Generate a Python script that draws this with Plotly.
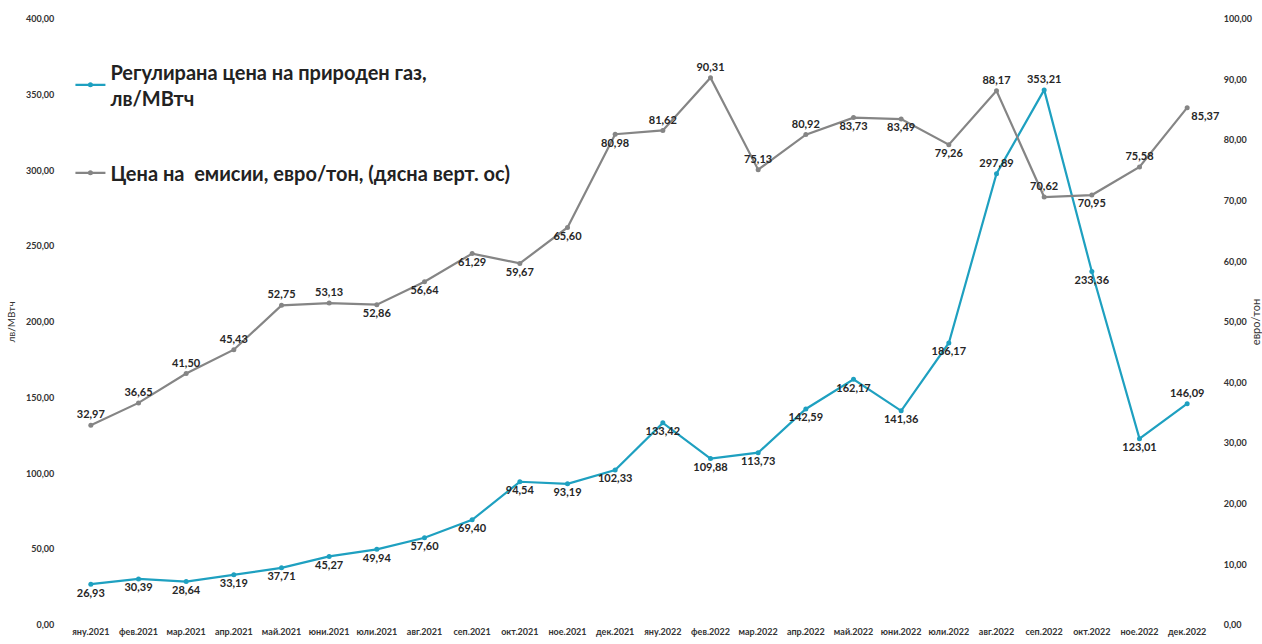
import plotly.graph_objects as go

months = ["яну.2021", "фев.2021", "мар.2021", "апр.2021", "май.2021", "юни.2021",
          "юли.2021", "авг.2021", "сеп.2021", "окт.2021", "ное.2021", "дек.2021",
          "яну.2022", "фев.2022", "мар.2022", "апр.2022", "май.2022", "юни.2022",
          "юли.2022", "авг.2022", "сеп.2022", "окт.2022", "ное.2022", "дек.2022"]

gas = [26.93, 30.39, 28.64, 33.19, 37.71, 45.27, 49.94, 57.60, 69.40, 94.54, 93.19, 102.33,
       133.42, 109.88, 113.73, 142.59, 162.17, 141.36, 186.17, 297.89, 353.21, 233.36, 123.01, 146.09]

emis = [32.97, 36.65, 41.50, 45.43, 52.75, 53.13, 52.86, 56.64, 61.29, 59.67, 65.60, 80.98,
        81.62, 90.31, 75.13, 80.92, 83.73, 83.49, 79.26, 88.17, 70.62, 70.95, 75.58, 85.37]

gas_pos = ["bottom center"] * 24
for i in (19, 20, 23):
    gas_pos[i] = "top center"

emis_pos = ["top center", "top center", "top center", "top center", "top center", "top center",
            "bottom center", "bottom center", "bottom center", "bottom center", "bottom center", "bottom center",
            "top center", "top center", "top center", "top center", "bottom center", "bottom center",
            "bottom center", "top center", "top center", "bottom center", "top center", "bottom right"]

GAS_C = "#1ea0c0"
EMI_C = "#858585"
FONT = "Lato"
lab_font = dict(family=FONT, size=11, color="#262626", weight="bold")

fig = go.Figure()
fig.add_trace(go.Scatter(
    x=months, y=gas, name="Регулирана цена на природен газ,<br>лв/МВтч",
    mode="lines+markers+text", line=dict(color=GAS_C, width=2.2),
    marker=dict(size=5, color=GAS_C), text=gas, texttemplate="%{y:.2f}",
    textposition=gas_pos, textfont=lab_font, legendgroup="a", yaxis="y", cliponaxis=False))
fig.add_trace(go.Scatter(
    x=months, y=emis, name="Цена на  емисии, евро/тон, (дясна верт. ос)",
    mode="lines+markers+text", line=dict(color=EMI_C, width=2.2),
    marker=dict(size=5, color=EMI_C), text=emis, texttemplate="%{y:.2f}",
    textposition=emis_pos, textfont=lab_font, legendgroup="b", yaxis="y2", cliponaxis=False))

tick_font = dict(family=FONT, size=9, color="#333333", weight="bold")
fig.update_layout(
    width=1262, height=644,
    margin=dict(l=67, r=51, t=19, b=19),
    paper_bgcolor="white", plot_bgcolor="white",
    separators=", ",
    font=dict(family=FONT),
    showlegend=True,
    legend=dict(x=0.003, y=0.945, xanchor="left", yanchor="top",
                font=dict(family=FONT, size=20, color="#222222", weight="bold"),
                traceorder="grouped", tracegroupgap=46, bgcolor="rgba(0,0,0,0)",
                itemwidth=30),
    xaxis=dict(range=[-0.5, 23.5], autorange=False, showgrid=False, showline=False,
               zeroline=False, ticks="", tickfont=tick_font, tickangle=0, automargin=False),
    yaxis=dict(range=[0, 400], dtick=50, tickformat=".2f", showgrid=False, zeroline=False,
               showline=False, ticks="outside", ticklen=10, tickcolor="rgba(0,0,0,0)",
               tickfont=tick_font, automargin=False,
               title=dict(text="лв/МВтч", font=dict(family=FONT, size=10, color="#333333"), standoff=8)),
    yaxis2=dict(range=[0, 100], dtick=10, tickformat=".2f", overlaying="y", side="right",
                showgrid=False, zeroline=False, showline=False, ticks="outside", ticklen=10,
                tickcolor="rgba(0,0,0,0)", tickfont=tick_font, automargin=False,
                title=dict(text="евро/тон", font=dict(family=FONT, size=11, color="#333333"), standoff=4)),
)

fig.write_html("out.html")
